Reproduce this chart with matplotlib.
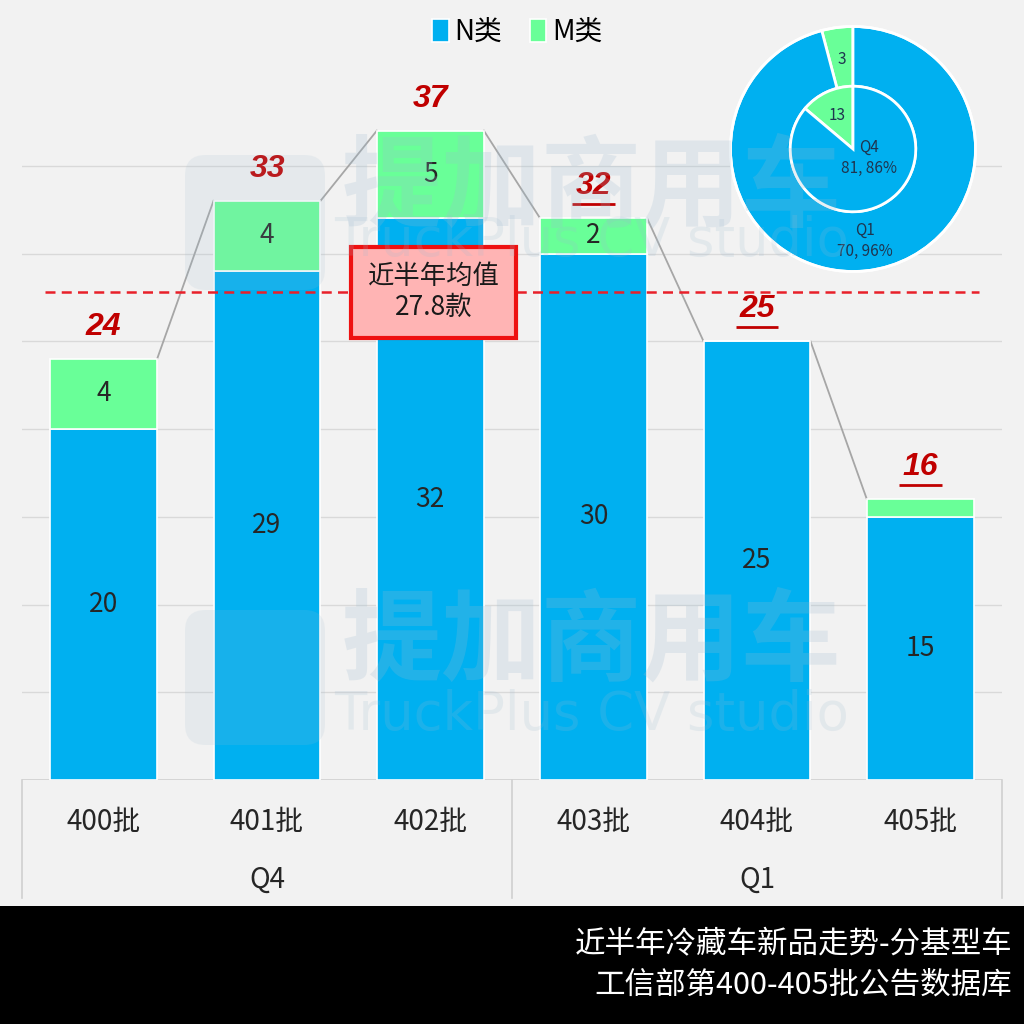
import matplotlib
matplotlib.use("Agg")
import matplotlib.pyplot as plt
import matplotlib.transforms as mtransforms
from matplotlib.patches import Rectangle, FancyBboxPatch
import numpy as np

plt.rcParams['font.family'] = ['Noto Sans CJK SC', 'DejaVu Sans']

# ---------------- data ----------------
batches = ["400批", "401批", "402批", "403批", "404批", "405批"]
quarters = ["Q4", "Q1"]
quarter_of_batch = ["Q4", "Q4", "Q4", "Q1", "Q1", "Q1"]
n_values = [20, 29, 32, 30, 25, 15]
m_values = [4, 4, 5, 2, 0, 1]
series_names = ["N类", "M类"]
mean_value = 27.8
mean_label = "近半年均值\n27.8款"
title_lines = ["近半年冷藏车新品走势-分基型车", "工信部第400-405批公告数据库"]
watermark_cn = "提加商用车"
watermark_en = "TruckPlus CV studio"

BLUE = "#00B0F0"
GREEN = "#69FF98"
BG = "#F2F2F2"
RED = "#C00000"

fig = plt.figure(figsize=(10.24, 10.24), dpi=100, facecolor=BG)

# watermark (faint)
for yy, yy2, ly in [(0.815, 0.765, 155), (0.372, 0.302, 610)]:
    fig.text(0.578, yy, watermark_cn, fontsize=72, color="#9DBBD0", alpha=0.22,
             ha="center", va="center", fontweight="bold", zorder=0)
    fig.text(0.578, yy2, watermark_en, fontsize=38, color="#9DBBD0", alpha=0.18,
             ha="center", va="center", family="DejaVu Sans", zorder=0)
    fig.patches.append(FancyBboxPatch((185/1024, 1-(ly+135)/1024), 140/1024, 135/1024,
                                      boxstyle="round,pad=0,rounding_size=0.02",
                                      transform=fig.transFigure, facecolor="#9DBBD0",
                                      alpha=0.15, edgecolor="none", zorder=0))

ax = fig.add_axes([22/1024, 1-780/1024, 980/1024, (780-78)/1024])
ax.set_facecolor("none")
x = np.arange(len(batches))
totals = [a + b for a, b in zip(n_values, m_values)]
width = 0.655

ax.set_xlim(-0.5, len(batches) - 0.5)
ax.set_ylim(0, 40)
for g in range(5, 40, 5):
    ax.axhline(g, color="#D9D9D9", lw=1, zorder=0)

ax.bar(x, n_values, width, color=BLUE, edgecolor="white", linewidth=1.2, zorder=2, label=series_names[0])
ax.bar(x, m_values, width, bottom=n_values, color=GREEN, edgecolor="white", linewidth=1.2, zorder=2, label=series_names[1])

# series lines between bar tops
for i in range(len(batches) - 1):
    ax.plot([x[i] + width/2, x[i+1] - width/2], [totals[i], totals[i+1]],
            color="#A6A6A6", lw=1.3, zorder=1)

# segment labels
for i in range(len(batches)):
    ax.text(x[i], n_values[i]/2, str(n_values[i]), ha="center", va="center",
            fontsize=19, color="#262626", zorder=3)
    if m_values[i] >= 2:
        ax.text(x[i], n_values[i] + m_values[i]/2, str(m_values[i]), ha="center", va="center",
                fontsize=19, color="#262626", zorder=3)

# total labels
off = mtransforms.offset_copy(ax.transData, fig=fig, x=0, y=32, units="dots")
uoff = mtransforms.offset_copy(ax.transData, fig=fig, x=0, y=14, units="dots")
for i in range(len(batches)):
    ax.text(x[i], totals[i], str(totals[i]), transform=off, ha="center", va="center",
            fontsize=23, fontweight="bold", fontstyle="italic", color=RED,
            family="Liberation Sans", zorder=3)
    if quarter_of_batch[i] == "Q1":
        ax.plot([x[i] - 0.13, x[i] + 0.13], [totals[i], totals[i]], transform=uoff,
                color=RED, lw=2, solid_capstyle="butt", zorder=3)

# mean line
ax.plot([-0.36, 5.36], [mean_value, mean_value], color="#E8202A", lw=1.8,
        ls=(0, (4, 2.5)), zorder=4)
ax.text(2.02, mean_value, mean_label, ha="center", va="center", fontsize=19,
        color="#1a1a1a", linespacing=1.2, zorder=5,
        bbox=dict(boxstyle="square,pad=0.62", facecolor="#FFB4B4", edgecolor="#EE1111", lw=3))

for s in ax.spines.values():
    s.set_visible(False)
ax.axhline(0, color="#D0D0D0", lw=1.2, zorder=1)
ax.set_xticks([])
ax.set_yticks([])

# category axis (two levels)
trans = mtransforms.blended_transform_factory(ax.transData, fig.transFigure)
for i, b in enumerate(batches):
    ax.text(x[i], 1-822/1024, b, transform=trans, ha="center", va="center",
            fontsize=20, color="#262626")
for qi, q in enumerate(quarters):
    idx = [i for i, qq in enumerate(quarter_of_batch) if qq == q]
    ax.text(np.mean(idx), 1-880/1024, q, transform=trans, ha="center", va="center",
            fontsize=20, color="#262626")
for xv in [-0.5, 2.5, 5.5]:
    ax.plot([xv, xv], [1-780/1024, 1-898/1024], transform=trans, color="#D0D0D0",
            lw=1.2, clip_on=False)

# legend
leg = fig.legend(handles=ax.containers[:2], labels=series_names, loc="center",
                 bbox_to_anchor=(0.505, 1-32/1024), ncol=2, frameon=False, fontsize=20,
                 handlelength=0.6, handleheight=0.9, handletextpad=0.2, columnspacing=1.0)

# black band & title
fig.patches.append(Rectangle((0, 0), 1, (1024-906)/1024, transform=fig.transFigure,
                             facecolor="black", edgecolor="none", zorder=0))
fig.text(1012/1024, 1-945/1024, title_lines[0], ha="right", va="center",
         fontsize=22, color="white")
fig.text(1012/1024, 1-985/1024, title_lines[1], ha="right", va="center",
         fontsize=22, color="white")

# ---------------- pie inset ----------------
pax = fig.add_axes([728/1024, 1-274/1024, 250/1024, 250/1024])
q4_n = sum(n_values[:3]); q4_m = sum(m_values[:3])
q1_n = sum(n_values[3:]); q1_m = sum(m_values[3:])
r_in = 0.512
pax.pie([q1_m, q1_n], colors=[GREEN, BLUE], startangle=90, radius=1.0,
        wedgeprops=dict(width=1 - r_in, edgecolor="white", linewidth=2))
pax.pie([q4_m, q4_n], colors=[GREEN, BLUE], startangle=90, radius=r_in,
        wedgeprops=dict(edgecolor="white", linewidth=2))
pax.add_patch(plt.Circle((0, 0), 1.0, fill=False, edgecolor="white", lw=2))
pax.set_xlim(-1.02, 1.02); pax.set_ylim(-1.02, 1.02); pax.set_aspect("equal")
pax.axis("off")

tc = "#1F3550"
ang = np.deg2rad(90 + 360 * q1_m / (q1_m + q1_n) / 2)
pax.text(0.74*np.cos(ang), 0.74*np.sin(ang), str(q1_m), ha="center", va="center", fontsize=11, color=tc)
ang = np.deg2rad(90 + 360 * q4_m / (q4_m + q4_n) / 2)
pax.text(0.30*np.cos(ang), 0.30*np.sin(ang), str(q4_m), ha="center", va="center", fontsize=11, color=tc)
pax.text(0.13, -0.07, f"Q4\n{q4_n}, {round(100*q4_n/(q4_n+q4_m))}%", ha="center", va="center",
         fontsize=11, color=tc, linespacing=1.3)
pax.text(0.10, -0.75, f"Q1\n{q1_n}, {round(100*q1_n/(q1_n+q1_m))}%", ha="center", va="center",
         fontsize=11, color=tc, linespacing=1.3)

fig.savefig("out.png", dpi=100, facecolor=BG)
